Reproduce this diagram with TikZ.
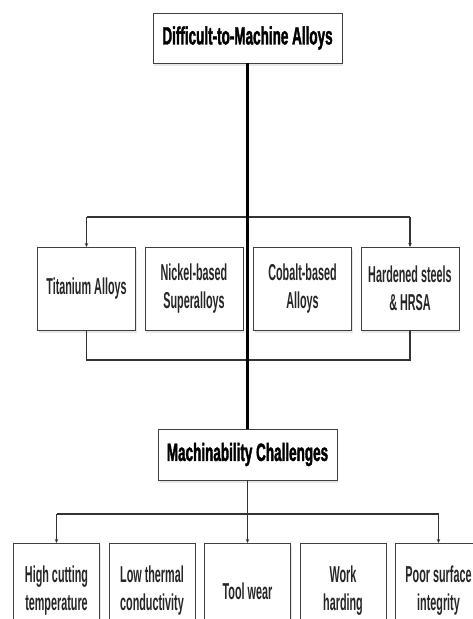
\documentclass[tikz,border=0pt]{standalone}
\usepackage{fontspec}
\newfontfamily\etiqfont[FakeStretch=0.47]{Liberation Sans Bold}
\newfontfamily\titfont[FakeStretch=0.54, FakeBold=1.5]{Liberation Sans Bold}
\usepackage{tikz}
\usetikzlibrary{positioning,arrows.meta,shadows}
\tikzset{arista/.style={line width=0.4mm, draw=black!80}}
\tikzset{tronco/.style={line width=1mm, draw=black}}
\tikzset{flecha/.style={arista, -{Stealth[length=4pt, width=3.5pt]}}}
\tikzset{caja/.style={draw=black!75, line width=0.35mm, fill=white, align=center, inner sep=2pt, outer sep=0pt,
    drop shadow={shadow xshift=1pt, shadow yshift=-2.5pt, opacity=0.18},
    text=black!85, font=\etiqfont\fontsize{23}{28}\selectfont}}
\tikzset{titulo/.style={caja, text=black, font=\titfont\fontsize{25}{30}\selectfont}}
\tikzset{nivel/.style={caja, minimum width=98pt, minimum height=83pt}}
\tikzset{reto/.style={caja, minimum width=86pt, minimum height=96pt}}

\begin{document}
\begin{tikzpicture}[x=1pt, y=-1pt]
            \useasboundingbox (0,0) rectangle (472,619);
            \node[titulo, minimum width=189pt, minimum height=50pt] (dif) at (247.5,38) {Difficult-to-Machine Alloys};

            \node[nivel] (ti) at (86.5,288.5) {Titanium Alloys};
            \node[nivel, right= 9.5pt of ti] (ni) {Nickel-based\\Superalloys};
            \node[nivel, right= 10.5pt of ni] (co) {Cobalt-based\\Alloys};
            \node[nivel, right= 9.5pt of co] (hr) {Hardened steels\\\& HRSA};

            \node[titulo, minimum width=179pt, minimum height=51pt] (maq) at (247.5,454.5) {Machinability Challenges};

            \node[reto] (temp) at (56.5,591) {High cutting\\temperature};
            \node[reto, right= 9.5pt of temp] (cond) {Low thermal\\conductivity};
            \node[reto, right= 9.5pt of cond] (desg) {Tool wear};
            \node[reto, right= 9.5pt of desg] (endu) {Work\\harding};
            \node[reto, right= 9.5pt of endu] (sup) {Poor surface\\integrity};

            \coordinate (b1) at (0,217);
            \coordinate (b2) at (0,360);
            \coordinate (b3) at (0,514);

            \draw[arista] (ti.north |- b1) -- (hr.north |- b1);
            \draw[flecha] (ti.north |- b1) -- (ti.north);
            \draw[flecha] (hr.north |- b1) -- (hr.north);
            \draw[arista] (ti.south) |- (b2 -| hr.south) -- (hr.south);
            \draw[tronco] (dif.south) -- (maq.north);

            \draw[arista] (maq.south) -- (maq.south |- b3);
            \draw[arista] (temp.north |- b3) -- (sup.north |- b3);
            \foreach \n in {temp, desg, sup}
                \draw[flecha] (\n.north |- b3) -- (\n.north);
        \end{tikzpicture}
\end{document}
